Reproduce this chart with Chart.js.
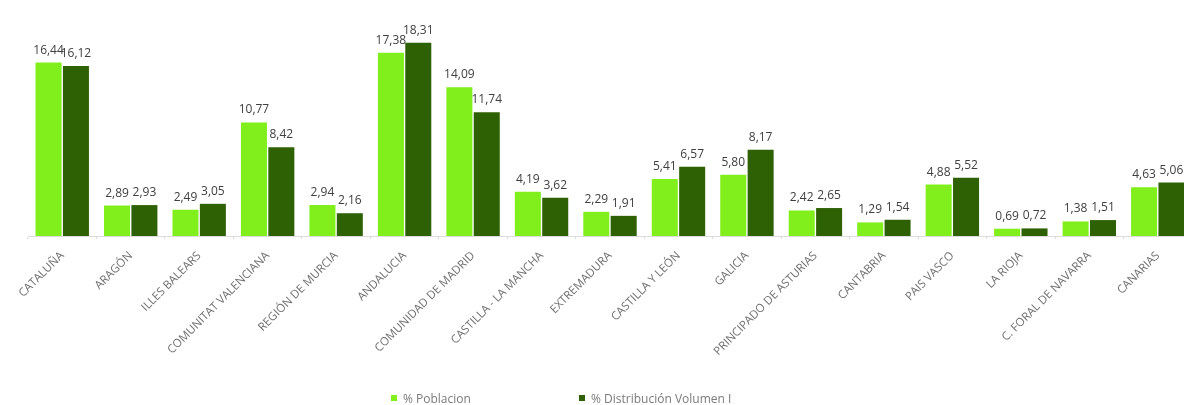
<!DOCTYPE html>
<html lang="es">
<head>
<meta charset="UTF-8">
<script src="https://cdn.jsdelivr.net/npm/chart.js"></script>
<title>Población vs distribución</title>
<style>
    html, body { margin: 0; padding: 0; background: #fff; overflow: hidden; }
    .grafico_sty { position: relative; width: 1192px; height: 405px; }
    .leyenda { position: absolute; top: 391px; left: 0; font: 12px "Open Sans", sans-serif; color: #7a7a7a; }
    .leyenda span { position: absolute; white-space: nowrap; line-height: 16px; }
    .leyenda i { display: inline-block; width: 6px; height: 6px; margin-right: 6px; vertical-align: 2px; }
</style>
</head>
<body>

<div class="grafico_sty">
    <canvas id="grafico_1" width="1192" height="405"></canvas>
    <div class="leyenda" id="leyenda"></div>
</div>

<script>
    const comunidades = ['CATALUÑA', 'ARAGÓN', 'ILLES BALEARS', 'COMUNITAT VALENCIANA', 'REGIÓN DE MURCIA',
        'ANDALUCIA', 'COMUNIDAD DE MADRID', 'CASTILLA - LA MANCHA', 'EXTREMADURA', 'CASTILLA Y LEÓN',
        'GALICIA', 'PRINCIPADO DE ASTURIAS', 'CANTABRIA', 'PAIS VASCO', 'LA RIOJA',
        'C. FORAL DE NAVARRA', 'CANARIAS'];
    const poblacion = [16.44, 2.89, 2.49, 10.77, 2.94, 17.38, 14.09, 4.19, 2.29, 5.41, 5.80, 2.42, 1.29, 4.88, 0.69, 1.38, 4.63];
    const distribucion = [16.12, 2.93, 3.05, 8.42, 2.16, 18.31, 11.74, 3.62, 1.91, 6.57, 8.17, 2.65, 1.54, 5.52, 0.72, 1.51, 5.06];
    const series = ['% Poblacion', '% Distribución Volumen I'];
    const colores = ['#80ef1c', '#2e6104'];

    // etiquetas con el valor encima de cada barra
    const etiquetas = {
        id: 'etiquetas',
        afterDatasetsDraw(chart) {
            const ctx = chart.ctx;
            ctx.save();
            ctx.font = '12px "Open Sans", sans-serif';
            ctx.fillStyle = '#404040';
            ctx.textAlign = 'center';
            ctx.textBaseline = 'alphabetic';
            chart.data.datasets.forEach((ds, i) => {
                chart.getDatasetMeta(i).data.forEach((bar, j) => {
                    ctx.fillText(ds.data[j].toFixed(2).replace('.', ','), bar.x, bar.y - 9);
                });
            });
            ctx.restore();
        }
    };

    const ctx = document.getElementById('grafico_1');

    const grafico_1 = new Chart(ctx, {
        type: 'bar',
        data: {
            labels: comunidades,
            datasets: [
                { label: series[0], data: poblacion, backgroundColor: colores[0] },
                { label: series[1], data: distribucion, backgroundColor: colores[1] }
            ]
        },
        options: {
            responsive: false,
            animation: false,
            maintainAspectRatio: false,
            layout: { padding: { top: 25, left: 28, right: 0, bottom: 0 } },
            datasets: { bar: { barPercentage: 0.95, categoryPercentage: 0.8 } },
            plugins: {
                legend: { display: false },
                tooltip: { enabled: false }
            },
            scales: {
                y: { display: false, min: 0, max: 20 },
                x: {
                    afterFit: (axis) => { axis.height = 169; },
                    border: { display: true, color: '#dcdcdc' },
                    grid: { drawOnChartArea: false, drawTicks: true, tickLength: 3, color: '#dcdcdc' },
                    ticks: {
                        minRotation: 45, maxRotation: 45, autoSkip: false, padding: 10,
                        color: '#707070',
                        font: { family: '"Open Sans", sans-serif', size: 11.5 }
                    }
                }
            }
        },
        plugins: [etiquetas]
    });

    // leyenda abajo
    const posLeyenda = [391, 579];
    const leyenda = document.getElementById('leyenda');
    grafico_1.data.datasets.forEach((ds, i) => {
        const s = document.createElement('span');
        s.style.left = posLeyenda[i] + 'px';
        s.innerHTML = '<i style="background:' + ds.backgroundColor + '"></i>' + ds.label;
        leyenda.appendChild(s);
    });
</script>
</body>
</html>
